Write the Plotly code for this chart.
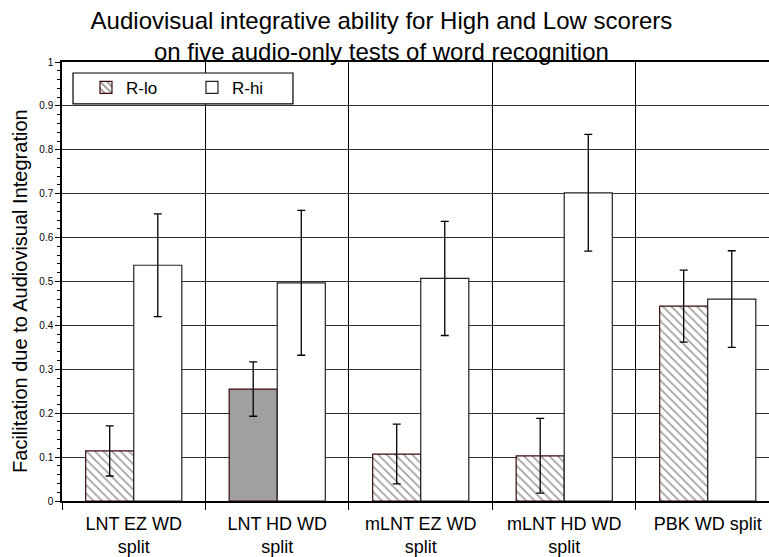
import plotly.graph_objects as go

categories = ["LNT EZ WD<br>split", "LNT HD WD<br>split", "mLNT EZ WD<br>split",
              "mLNT HD WD<br>split", "PBK WD split"]
r_lo = [0.114, 0.255, 0.107, 0.103, 0.444]
r_lo_err = [0.057, 0.062, 0.068, 0.085, 0.082]
r_hi = [0.537, 0.497, 0.507, 0.702, 0.460]
r_hi_err = [0.117, 0.165, 0.130, 0.133, 0.110]
lo_fill = ["white", "#a0a0a0", "white", "white", "white"]
lo_shape = ["\\", "", "\\", "\\", "\\"]
y_tickvals = [0, 0.1, 0.2, 0.3, 0.4, 0.5, 0.6, 0.7, 0.8, 0.9, 1]
y_ticktext = ["0", "0.1", "0.2", "0.3", "0.4", "0.5", "0.6", "0.7", "0.8", "0.9", "1"]

fig = go.Figure()
fig.add_trace(go.Bar(
    name="R-lo", x=categories, y=r_lo,
    marker=dict(color=lo_fill, line=dict(color="#3a0a0a", width=1.2),
                pattern=dict(shape=lo_shape, fgcolor="#000000", bgcolor=lo_fill,
                             size=6, solidity=0.3)),
    error_y=dict(type="data", array=r_lo_err, color="black", thickness=1.3, width=4),
))
fig.add_trace(go.Bar(
    name="R-hi", x=categories, y=r_hi,
    marker=dict(color="white", line=dict(color="#222222", width=1.2)),
    error_y=dict(type="data", array=r_hi_err, color="black", thickness=1.3, width=4),
))

# legend frame
fig.add_shape(type="rect", xref="paper", yref="paper",
              x0=0.0156, x1=0.3267, y0=0.9048, y1=0.975,
              fillcolor="white", line=dict(color="black", width=1.2), layer="above")

# y-axis title
fig.add_annotation(text="Facilitation due to Audiovisual Integration", textangle=-90,
                   xref="paper", yref="paper", x=-0.0594, y=0.4785,
                   xanchor="center", yanchor="middle", showarrow=False,
                   font=dict(size=20, color="black"))

fig.update_layout(
    width=769, height=557,
    margin=dict(l=62, r=0, t=62, b=54),
    paper_bgcolor="white", plot_bgcolor="white",
    barmode="group", bargap=0.33, bargroupgap=0,
    font=dict(family="Liberation Sans, Arial, sans-serif", color="black"),
    title=dict(text="Audiovisual integrative ability for High and Low scorers<br>on five audio-only tests of word recognition",
               x=0.496, xanchor="center", yref="container", y=0.948, yanchor="middle",
               font=dict(size=24, color="black")),
    legend=dict(orientation="h", x=0.0339, y=0.941, xanchor="left", yanchor="middle",
                bgcolor="rgba(0,0,0,0)", borderwidth=0,
                font=dict(size=17), entrywidth=61, itemwidth=30),
    showlegend=True,
)
fig.update_xaxes(
    range=[-0.5, 4.427], tickson="boundaries", showgrid=True, gridcolor="black", gridwidth=1,
    ticks="outside", ticklen=7, tickcolor="black", ticklabelstandoff=5,
    showline=True, linecolor="black", linewidth=2, mirror=True,
    tickfont=dict(size=18), fixedrange=True,
)
fig.update_yaxes(
    range=[0, 1], tickvals=y_tickvals, ticktext=y_ticktext,
    showgrid=True, gridcolor="#333333", gridwidth=1, zeroline=False,
    ticks="outside", ticklen=5, tickcolor="black",
    minor=dict(dtick=0.02, ticks="outside", ticklen=3, tickcolor="black", showgrid=False),
    showline=True, linecolor="black", linewidth=1.5,
    tickfont=dict(size=10),
)
fig.write_html("out.html")
